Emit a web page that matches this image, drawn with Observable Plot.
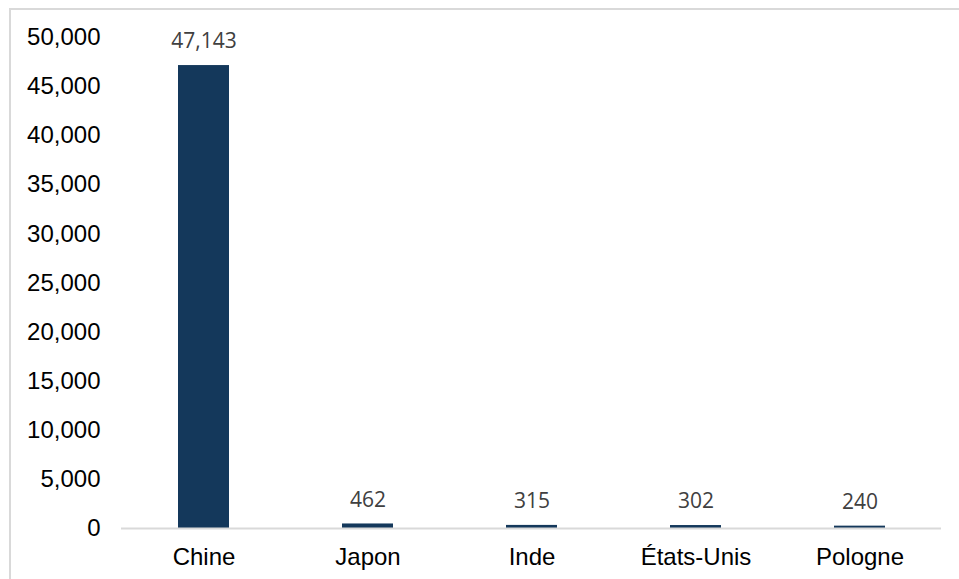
<!DOCTYPE html>
<html>
<head>
<meta charset="utf-8">
<script src="https://cdn.jsdelivr.net/npm/d3@7"></script>
<script src="https://cdn.jsdelivr.net/npm/@observablehq/plot@0.6"></script>
<style>
  html, body { margin: 0; padding: 0; background: #fff; }
  #wrap { position: relative; width: 959px; height: 579px; overflow: hidden; }
  #border { position: absolute; left: 9px; top: 8px; width: 960px; height: 600px;
            border-top: 2px solid #d9d9d9; border-left: 2px solid #d9d9d9; pointer-events: none; }
  svg { display: block; }
</style>
</head>
<body>
<div id="wrap"><div id="border"></div></div>
<script>
const countries = ["Chine", "Japon", "Inde", "États-Unis", "Pologne"];
const values = [47143, 462, 315, 302, 240];
const yTicks = [0, 5000, 10000, 15000, 20000, 25000, 30000, 35000, 40000, 45000, 50000];

const data = countries.map((c, i) => ({country: c, value: values[i]}));

const chart = Plot.plot({
  width: 959,
  height: 579,
  marginLeft: 121,
  marginRight: 18,
  marginTop: 37,
  marginBottom: 51,
  style: {fontFamily: "Liberation Sans, Arial, sans-serif", background: "transparent"},
  x: {domain: countries, paddingInner: 0.69, paddingOuter: 0.345, label: null},
  y: {domain: [0, 50000], label: null},
  marks: [
    Plot.barY(data, {x: "country", y: "value", fill: "#14385b"}),
    Plot.ruleY([0], {stroke: "#d9d9d9", strokeWidth: 2}),
    Plot.axisY({ticks: yTicks, tickSize: 0, tickPadding: 21, tickFormat: d3.format(","),
                fontSize: 24, fill: "#000", label: null}),
    Plot.axisX({tickSize: 0, tickPadding: 19, fontSize: 24, fill: "#000", label: null}),
    Plot.text(data, {x: "country", y: "value", text: d => d3.format(",")(d.value),
                     dy: -24, fontSize: 21, fill: "#404040",
                     fontFamily: "Open Sans, sans-serif", lineAnchor: "middle"})
  ]
});
document.getElementById("wrap").prepend(chart);
</script>
</body>
</html>
